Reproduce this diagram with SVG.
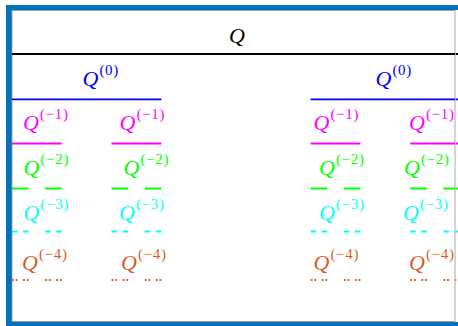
<svg xmlns="http://www.w3.org/2000/svg" width="458" height="326" viewBox="0 0 458 326">
<style>
text{font-family:"Liberation Serif","Times New Roman",serif;font-size:22px}
.q{font-style:italic}
.s{font-size:15px;font-style:normal;letter-spacing:0.7px}
.ln{fill:none;stroke-width:1.8}
.k{stroke:#000}.b{stroke:#0000FF}.m{stroke:#FF00FF}.g{stroke:#00FF00}.c{stroke:#00FFFF}.o{stroke:#DA5A2A}
.tk{fill:#000}.tb{fill:#0000FF}.tm{fill:#FF00FF}.tg{fill:#00FF00}.tc{fill:#00FFFF}.to{fill:#DA5A2A}
</style>
<rect x="0" y="0" width="458" height="326" fill="#ffffff"/>
<rect x="6" y="5" width="452" height="321" fill="#0571B8"/>
<rect x="12" y="10.5" width="443" height="311" fill="#ffffff" stroke="#9a9a9a" stroke-width="0.8"/>
<rect x="455" y="10" width="3" height="312" fill="#ffffff"/>
<g id="Q">
<text x="229" y="43" class="tk"><tspan class="q">Q</tspan></text>
<path class="ln k" d="M12 54H460"/>
</g>
<g id="Q0-left">
<text x="82.5" y="86" class="tb"><tspan class="q">Q</tspan><tspan class="s" dx="1" dy="-11">(0)</tspan></text>
<path class="ln b" d="M12 99.3H161.33"/>
</g>
<g id="Q0-right">
<text x="375.5" y="86" class="tb"><tspan class="q">Q</tspan><tspan class="s" dx="1" dy="-11">(0)</tspan></text>
<path class="ln b" d="M310.67 99.3H460"/>
</g>
<g id="Qm1-a">
<text x="23" y="130" class="tm"><tspan class="q">Q</tspan><tspan class="s" dx="1" dy="-11">(−1)</tspan></text>
<path class="ln m" d="M12 143.5h49.78"/>
</g>
<g id="Qm1-b">
<text x="119.5" y="130" class="tm"><tspan class="q">Q</tspan><tspan class="s" dx="1" dy="-11">(−1)</tspan></text>
<path class="ln m" d="M111.56 143.5h49.78"/>
</g>
<g id="Qm1-c">
<text x="313.5" y="130" class="tm"><tspan class="q">Q</tspan><tspan class="s" dx="1" dy="-11">(−1)</tspan></text>
<path class="ln m" d="M310.67 143.5h49.78"/>
</g>
<g id="Qm1-d">
<text x="409" y="130" class="tm"><tspan class="q">Q</tspan><tspan class="s" dx="1" dy="-11">(−1)</tspan></text>
<path class="ln m" d="M410.22 143.5h49.78"/>
</g>
<g id="Qm2-a">
<text x="23.5" y="175" class="tg"><tspan class="q">Q</tspan><tspan class="s" dx="1" dy="-11">(−2)</tspan></text>
<path class="ln g" d="M12 188.5h16.59M45.19 188.5h16.59"/>
</g>
<g id="Qm2-b">
<text x="123.5" y="175" class="tg"><tspan class="q">Q</tspan><tspan class="s" dx="1" dy="-11">(−2)</tspan></text>
<path class="ln g" d="M111.56 188.5h16.59M144.74 188.5h16.59"/>
</g>
<g id="Qm2-c">
<text x="319" y="175" class="tg"><tspan class="q">Q</tspan><tspan class="s" dx="1" dy="-11">(−2)</tspan></text>
<path class="ln g" d="M310.67 188.5h16.59M343.85 188.5h16.59"/>
</g>
<g id="Qm2-d">
<text x="404" y="175" class="tg"><tspan class="q">Q</tspan><tspan class="s" dx="1" dy="-11">(−2)</tspan></text>
<path class="ln g" d="M410.22 188.5h16.59M443.41 188.5h16.59"/>
</g>
<g id="Qm3-a">
<text x="23.5" y="220" class="tc"><tspan class="q">Q</tspan><tspan class="s" dx="1" dy="-11">(−3)</tspan></text>
<path class="ln c" d="M12 231.5h5.53M23.06 231.5h5.53M45.19 231.5h5.53M56.25 231.5h5.53"/>
</g>
<g id="Qm3-b">
<text x="119" y="220" class="tc"><tspan class="q">Q</tspan><tspan class="s" dx="1" dy="-11">(−3)</tspan></text>
<path class="ln c" d="M111.56 231.5h5.53M122.62 231.5h5.53M144.74 231.5h5.53M155.8 231.5h5.53"/>
</g>
<g id="Qm3-c">
<text x="319" y="220" class="tc"><tspan class="q">Q</tspan><tspan class="s" dx="1" dy="-11">(−3)</tspan></text>
<path class="ln c" d="M310.67 231.5h5.53M321.73 231.5h5.53M343.85 231.5h5.53M354.91 231.5h5.53"/>
</g>
<g id="Qm3-d">
<text x="403" y="220" class="tc"><tspan class="q">Q</tspan><tspan class="s" dx="1" dy="-11">(−3)</tspan></text>
<path class="ln c" d="M410.22 231.5h5.53M421.28 231.5h5.53M443.41 231.5h5.53M454.47 231.5h5.53"/>
</g>
<g id="Qm4-a">
<text x="22" y="270" class="to"><tspan class="q">Q</tspan><tspan class="s" dx="1" dy="-11">(−4)</tspan></text>
<path class="ln o" d="M12 280h1.84M15.69 280h1.84M23.06 280h1.84M26.75 280h1.84M45.19 280h1.84M48.88 280h1.84M56.25 280h1.84M59.94 280h1.84"/>
</g>
<g id="Qm4-b">
<text x="121" y="270" class="to"><tspan class="q">Q</tspan><tspan class="s" dx="1" dy="-11">(−4)</tspan></text>
<path class="ln o" d="M111.56 280h1.84M115.25 280h1.84M122.62 280h1.84M126.31 280h1.84M144.74 280h1.84M148.43 280h1.84M155.8 280h1.84M159.49 280h1.84"/>
</g>
<g id="Qm4-c">
<text x="313.5" y="270" class="to"><tspan class="q">Q</tspan><tspan class="s" dx="1" dy="-11">(−4)</tspan></text>
<path class="ln o" d="M310.67 280h1.84M314.36 280h1.84M321.73 280h1.84M325.42 280h1.84M343.85 280h1.84M347.54 280h1.84M354.91 280h1.84M358.6 280h1.84"/>
</g>
<g id="Qm4-d">
<text x="409" y="270" class="to"><tspan class="q">Q</tspan><tspan class="s" dx="1" dy="-11">(−4)</tspan></text>
<path class="ln o" d="M410.22 280h1.84M413.91 280h1.84M421.28 280h1.84M424.97 280h1.84M443.41 280h1.84M447.1 280h1.84M454.47 280h1.84M458.16 280h1.84"/>
</g>
<path d="M455.5 10V321.5" stroke="#c8c8c8" stroke-width="0.8"/>
</svg>
